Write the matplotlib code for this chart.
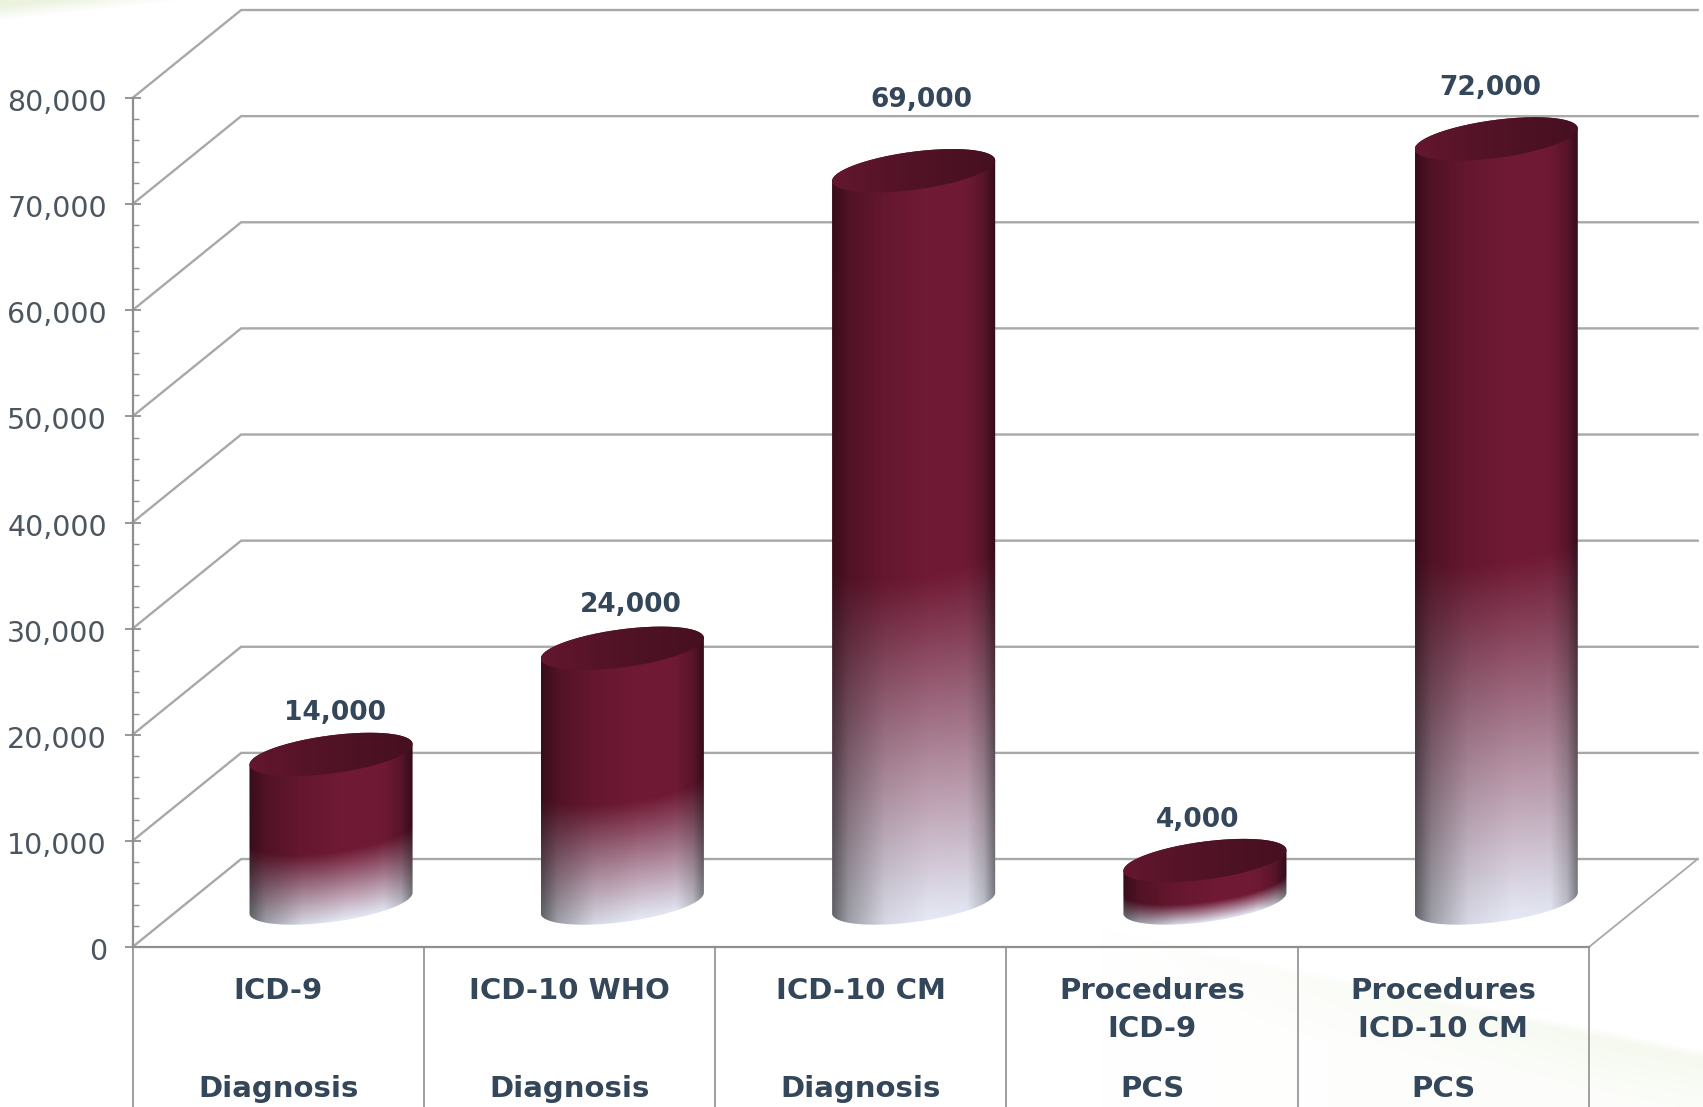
import numpy as np
import matplotlib
matplotlib.use("Agg")
import matplotlib.pyplot as plt
from matplotlib.path import Path
from matplotlib.ticker import MultipleLocator, FuncFormatter
from matplotlib.transforms import ScaledTranslation

# ---- data ----
line_one = ["ICD-9", "ICD-10 WHO", "ICD-10 CM", "Procedures", "Procedures"]
line_two = ["", "", "", "ICD-9", "ICD-10 CM"]
groups = ["Diagnosis", "Diagnosis", "Diagnosis", "PCS", "PCS"]
values = [14000, 24000, 69000, 4000, 72000]

# ---- layout constants ----
W, H = 1703, 1107
LEFT, RIGHT, Y0, Y80 = 132.5, 1589.0, 947.0, 98.0
DEPTH_X = 0.373      # depth expressed in category units
DEPTH_Y = 8290.0     # depth expressed in value units
BAR_HALF = 0.28
TILT = 972.0
MINOR_B = 1800.0
LABEL_NUDGE = [(4, 41), (8, 43), (8, 71), (-7, 41), (-6, 51)]  # pixels

GRID = "#a8a8a8"
AXIS = "#8f8f8f"
TEXT = "#33465a"
TICKTEXT = "#4b5661"

fig = plt.figure(figsize=(W / 100, H / 100), dpi=100, facecolor="white")

# ---- faint page background ----
bg = fig.add_axes([0, 0, 1, 1], zorder=-1)
bg.axis("off")
yy, xx = np.mgrid[0:H, 0:W].astype(float)
a_top = np.clip((20 - yy - xx * 0.11) / 14, 0, 1)
edge = 967 + (xx - 1292) * 0.202
a_low = np.clip((yy - edge) / 8, 0, 1) * np.clip(1 - (yy - edge) / 90, 0.25, 1) * np.clip((xx - 1100) / 500, 0, 1)
a_bg = np.clip(a_top + 0.55 * a_low, 0, 1)[..., None]
bg_img = (1 - a_bg) * np.array([1.0, 1.0, 1.0]) + a_bg * np.array([0.925, 0.955, 0.875])
bg.imshow(bg_img, aspect="auto", origin="upper", interpolation="bilinear")

# ---- main axes is the front plane of the 3D box ----
ax = fig.add_axes([LEFT / W, 1 - Y0 / H, (RIGHT - LEFT) / W, (Y0 - Y80) / H])
ax.patch.set_alpha(0)
n = len(values)
ax.set_xlim(0, n)
ax.set_ylim(0, 80000)
for s in ("top", "right"):
    ax.spines[s].set_visible(False)
for s in ("left", "bottom"):
    ax.spines[s].set_color(AXIS)
    ax.spines[s].set_linewidth(1.6)
ax.yaxis.set_major_locator(MultipleLocator(10000))
ax.yaxis.set_minor_locator(MultipleLocator(2000))
ax.yaxis.set_major_formatter(FuncFormatter(lambda v, _: f"{int(v):,}"))
ax.tick_params(axis="y", which="major", direction="inout", length=11, width=1.3,
               color=AXIS, labelsize=20.5, labelcolor=TICKTEXT, pad=13)
ax.tick_params(axis="y", which="minor", direction="in", length=4.5, width=1.0, color=AXIS)
ax.set_xticks([])
shift = ScaledTranslation(0, -1.5 / 72, fig.dpi_scale_trans)
for lab in ax.get_yticklabels():
    lab.set_transform(lab.get_transform() + shift)

# back wall, side wall and floor lines
for v in np.arange(0, 80001, 10000):
    ax.plot([0, DEPTH_X, n + DEPTH_X], [v, v + DEPTH_Y, v + DEPTH_Y],
            color=GRID, lw=1.7, clip_on=False, zorder=1, solid_joinstyle="miter")
ax.plot([n, n + DEPTH_X], [0, DEPTH_Y], color=GRID, lw=1.3, clip_on=False, zorder=1)

# separators under the floor
y_bottom = -(H - Y0) / (Y0 - Y80)
for i in range(n + 1):
    ax.plot([i, i], [y_bottom, 0], transform=ax.get_xaxis_transform(),
            color=AXIS, lw=1.2, clip_on=False, zorder=1)

# category labels
def row(px):
    return -(px - Y0) / (Y0 - Y80)

for i in range(n):
    style = dict(transform=ax.get_xaxis_transform(), ha="center", va="center",
                 fontsize=21, fontweight="bold", color=TEXT, clip_on=False)
    ax.text(i + 0.5, row(991), line_one[i], **style)
    if line_two[i]:
        ax.text(i + 0.5, row(1029), line_two[i], **style)
    ax.text(i + 0.5, row(1089), groups[i], **style)

# ---- cylinders ----
MAROON = np.array([113, 26, 53]) / 255
LIGHT = np.array([230, 234, 246]) / 255
U = [-1, -0.8, -0.35, 0.2, 0.65, 0.86, 1]
SHADE_D = [0.5, 0.72, 0.9, 1.0, 0.98, 0.78, 0.45]
SHADE_L = [0.42, 0.68, 0.93, 1.0, 0.98, 0.8, 0.5]

def cylinder(i, value):
    cx = i + 0.495 + DEPTH_X / 2
    base = DEPTH_Y / 2
    top = value + DEPTH_Y / 2
    t1 = np.linspace(0, np.pi, 80)
    t2 = np.linspace(np.pi, 2 * np.pi, 80)
    px = np.r_[cx + BAR_HALF * np.cos(t1), cx + BAR_HALF * np.cos(t2)]
    py = np.r_[top + MINOR_B * np.sin(t1) + TILT * np.cos(t1),
               base + MINOR_B * np.sin(t2) + TILT * np.cos(t2)]
    body = Path(np.c_[px, py])

    ext = MINOR_B + TILT + 200
    y_lo, y_hi = base - ext, top + ext
    rows = max(60, int((y_hi - y_lo) / 80000 * 849))
    u = np.linspace(-1, 1, 180)
    y = np.linspace(y_hi, y_lo, rows)
    uu, ygrid = np.meshgrid(u, y)
    curve = -MINOR_B * np.sqrt(np.clip(1 - uu ** 2, 0, 1)) + TILT * uu
    v = (ygrid - base - curve) / max(value, 1)
    blend = np.clip(v / 0.47, 0, 1)[..., None]
    dark = MAROON * np.interp(uu, U, SHADE_D)[..., None]
    light = LIGHT * np.interp(uu, U, SHADE_L)[..., None]
    rgb = blend * dark + (1 - blend) * light
    im = ax.imshow(rgb, extent=(cx - BAR_HALF, cx + BAR_HALF, y_lo, y_hi), aspect="auto",
                   origin="upper", interpolation="bilinear", zorder=3)
    im.set_clip_box(None)
    im.set_clip_path(body, ax.transData)

    # lid
    t = np.linspace(0, 2 * np.pi, 160)
    lid = Path(np.c_[cx + BAR_HALF * np.cos(t),
                     top + MINOR_B * np.sin(t) + TILT * np.cos(t)])
    g = np.interp(np.linspace(-1, 1, 120), [-1, -0.3, 0.4, 1], [0.88, 0.76, 0.68, 0.62])
    lid_rgb = (MAROON * g[:, None])[None, :, :]
    lim = ax.imshow(lid_rgb, extent=(cx - BAR_HALF, cx + BAR_HALF, top - ext, top + ext),
                    aspect="auto", origin="upper", interpolation="bilinear", zorder=4)
    lim.set_clip_box(None)
    lim.set_clip_path(lid, ax.transData)
    return cx, top

for i, val in enumerate(values):
    cx, top = cylinder(i, val)
    nx, ny = LABEL_NUDGE[i]
    ax.annotate(f"{val:,}", xy=(cx, top), xytext=(nx * 0.72, ny * 0.72),
                textcoords="offset points", ha="center", va="center",
                fontsize=19, fontweight="bold", color=TEXT, zorder=5, annotation_clip=False)

ax.set_xlim(0, n)
ax.set_ylim(0, 80000)
fig.savefig("out.png", dpi=100)
